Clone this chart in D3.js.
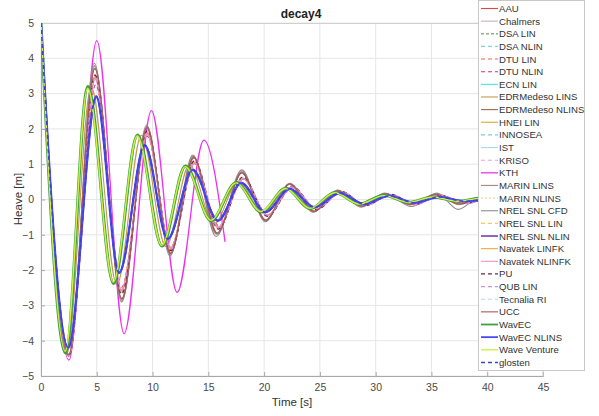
<!DOCTYPE html>
<html><head><meta charset="utf-8">
<script src="https://cdn.jsdelivr.net/npm/d3@7"></script>
<style>body{margin:0;background:#fff}svg{display:block}text{font-family:"Liberation Sans",Arial,Helvetica,sans-serif}</style>
</head><body>
<svg id="c" width="599" height="416"></svg>
<script>
// ---- data (time [s], heave [m]) at extrema ----
const xTickValues = [0,5,10,15,20,25,30,35,40,45];
const yTickValues = [-5,-4,-3,-2,-1,0,1,2,3,4,5];

const dAAU = [[0,5],[2.5,-4.38],[4.85,3.45],[7.2,-2.6],[9.5,1.88],[11.6,-1.4],[13.75,1.05],[15.9,-0.8],[18.1,0.6],[20.3,-0.45],[22.5,0.35],[24.7,-0.27],[26.9,0.22],[29.1,-0.16],[31.3,0.13],[33.5,-0.12],[35.7,0.11],[37.9,-0.09],[40,0.04]];
const dChalmers = [[0,5],[2.5,-4.42],[4.8,3.8],[7.25,-2.88],[9.5,2.08],[11.6,-1.56],[13.65,1.24],[15.75,-1.0],[18.0,0.8],[20.1,-0.6],[22.3,0.45],[24.45,-0.35],[26.6,0.26],[28.75,-0.2],[30.85,0.17],[33.1,-0.15],[35.4,0.16],[37.5,-0.15],[39.6,0.08],[40,0.05]];
const dDSALIN = [[0,5],[2.22,-4.33],[4.22,3.18],[6.52,-2.36],[8.67,1.8],[10.87,-1.3],[12.97,0.93],[15.27,-0.6],[17.52,0.47],[19.77,-0.34],[21.97,0.31],[24.17,-0.25],[26.37,0.19],[28.57,-0.13],[30.77,0.11],[32.97,-0.08],[35.17,0.07],[37.37,-0.05],[39.5,0.04],[40,0.03]];
const dDSANLIN = [[0,5],[2.45,-4.22],[4.95,2.95],[7.02,-2.1],[9.3,1.56],[11.37,-1.13],[13.6,0.85],[15.85,-0.61],[17.95,0.47],[20.1,-0.36],[22.3,0.3],[24.5,-0.22],[26.8,0.18],[29.0,-0.13],[31.2,0.1],[33.5,-0.09],[35.7,0.07],[38.0,-0.05],[40,0.02]];
const dDTULIN = [[0,5],[2.5,-4.4],[4.85,3.5],[7.2,-2.62],[9.5,1.9],[11.6,-1.42],[13.75,1.06],[15.9,-0.8],[18.1,0.6],[20.3,-0.46],[22.5,0.36],[24.7,-0.27],[26.9,0.22],[29.1,-0.17],[31.3,0.14],[33.5,-0.13],[35.7,0.12],[37.9,-0.1],[40,0.05]];
const dDTUNLIN = [[0,5],[2.5,-4.4],[4.9,3.25],[7.2,-2.5],[9.5,1.8],[11.6,-1.35],[13.8,1.0],[15.95,-0.75],[18.15,0.58],[20.35,-0.44],[22.55,0.34],[24.75,-0.26],[26.95,0.21],[29.15,-0.16],[31.35,0.14],[33.55,-0.14],[35.75,0.13],[37.95,-0.11],[40,0.06]];
const dECNLIN = [[0,5],[2.45,-4.2],[4.95,2.9],[7.0,-2.06],[9.3,1.52],[11.35,-1.1],[13.6,0.83],[15.85,-0.59],[17.95,0.46],[20.1,-0.35],[22.3,0.29],[24.5,-0.22],[26.8,0.18],[29.0,-0.13],[31.2,0.1],[33.5,-0.09],[35.7,0.07],[38.0,-0.05],[40,0.02]];
const dEDRLINS = [[0,5],[2.3,-4.38],[4.5,3.2],[6.8,-2.42],[9.0,1.82],[11.2,-1.34],[13.3,0.98],[15.5,-0.7],[17.7,0.52],[19.9,-0.38],[22.1,0.3],[24.3,-0.22],[26.5,0.18],[28.7,-0.13],[30.9,0.11],[33.1,-0.09],[35.3,0.08],[37.5,-0.06],[39.7,0.04],[40,0.03]];
const dEDRNLINS = [[0,5],[2.5,-4.4],[4.82,3.7],[7.25,-2.8],[9.5,2.02],[11.6,-1.52],[13.7,1.18],[15.8,-0.95],[18.0,0.75],[20.15,-0.58],[22.3,0.43],[24.5,-0.33],[26.65,0.25],[28.8,-0.19],[30.9,0.16],[33.1,-0.14],[35.4,0.14],[37.5,-0.13],[39.6,0.07],[40,0.05]];
const dHNEILIN = [[0,5],[2.22,-4.36],[4.2,3.22],[6.5,-2.4],[8.65,1.84],[10.85,-1.33],[12.95,0.96],[15.25,-0.61],[17.5,0.48],[19.75,-0.35],[21.95,0.32],[24.15,-0.26],[26.35,0.2],[28.55,-0.13],[30.75,0.12],[32.95,-0.08],[35.15,0.07],[37.35,-0.05],[39.5,0.04],[40,0.03]];
const dINNOSEA = [[0,5],[2.45,-4.22],[4.95,2.93],[7.0,-2.09],[9.3,1.55],[11.35,-1.13],[13.6,0.85],[15.85,-0.6],[17.95,0.47],[20.1,-0.36],[22.3,0.3],[24.5,-0.22],[26.8,0.18],[29.0,-0.13],[31.2,0.1],[33.5,-0.09],[35.7,0.07],[38.0,-0.05],[40,0.02]];
const dIST = [[0,5],[2.45,-4.18],[4.95,2.88],[7.0,-2.05],[9.3,1.52],[11.35,-1.1],[13.6,0.82],[15.85,-0.58],[17.95,0.46],[20.1,-0.35],[22.3,0.29],[24.5,-0.21],[26.8,0.17],[29.0,-0.12],[31.2,0.1],[33.5,-0.08],[35.7,0.07],[38.0,-0.05],[40,0.02]];
const dKRISO = [[0,5],[2.5,-4.42],[4.85,3.55],[7.22,-2.65],[9.52,1.92],[11.62,-1.43],[13.78,1.08],[15.92,-0.82],[18.12,0.62],[20.32,-0.47],[22.52,0.37],[24.72,-0.28],[26.92,0.22],[29.12,-0.17],[31.32,0.15],[33.52,-0.14],[35.72,0.13],[37.92,-0.11],[40,0.06]];
const dKTH = [[0,5],[2.5,-4.55],[5.0,4.5],[7.45,-3.8],[9.9,2.52],[12.2,-2.63],[14.6,1.68],[16.5,-1.2]];
const dMARINLINS = [[0,5],[2.5,-4.4],[4.8,3.78],[7.25,-2.85],[9.5,2.06],[11.6,-1.55],[13.65,1.22],[15.75,-0.98],[18.0,0.78],[20.1,-0.6],[22.3,0.44],[24.45,-0.34],[26.6,0.26],[28.75,-0.19],[30.85,0.17],[33.1,-0.15],[35.4,0.15],[37.5,-0.14],[39.6,0.07],[40,0.05]];
const dMARINNLINS = [[0,5],[2.5,-4.4],[4.85,3.5],[7.2,-2.6],[9.5,1.9],[11.6,-1.4],[13.75,1.05],[15.9,-0.8],[18.1,0.6],[20.3,-0.45],[22.5,0.36],[24.7,-0.27],[26.9,0.22],[29.1,-0.16],[31.3,0.14],[33.5,-0.12],[35.7,0.12],[37.9,-0.1],[40,0.05]];
const dNRELCFD = [[0,5],[2.5,-4.45],[4.78,3.86],[7.23,-2.9],[9.47,2.11],[11.56,-1.6],[13.6,1.26],[15.7,-1.05],[18.0,0.84],[20.1,-0.63],[22.3,0.46],[24.4,-0.36],[26.6,0.27],[28.7,-0.22],[30.8,0.18],[33.2,-0.2],[35.5,0.18],[37.4,-0.28],[39.5,0.1],[40,0.08]];
const dNRELLIN = [[0,5],[2.5,-4.38],[4.85,3.48],[7.2,-2.6],[9.5,1.88],[11.6,-1.4],[13.75,1.04],[15.9,-0.79],[18.1,0.6],[20.3,-0.45],[22.5,0.35],[24.7,-0.27],[26.9,0.21],[29.1,-0.16],[31.3,0.13],[33.5,-0.12],[35.7,0.11],[37.9,-0.09],[40,0.04]];
const dNRELNLIN = [[0,5],[2.45,-4.2],[4.97,2.9],[7.02,-2.06],[9.32,1.53],[11.37,-1.12],[13.62,0.84],[15.87,-0.6],[17.97,0.47],[20.12,-0.36],[22.32,0.3],[24.52,-0.22],[26.82,0.18],[29.02,-0.13],[31.22,0.1],[33.52,-0.09],[35.72,0.07],[38.0,-0.05],[40,0.02]];
const dNavLINFK = [[0,5],[2.5,-4.38],[4.85,3.45],[7.2,-2.58],[9.5,1.86],[11.6,-1.38],[13.75,1.03],[15.9,-0.78],[18.1,0.59],[20.3,-0.44],[22.5,0.35],[24.7,-0.26],[26.9,0.21],[29.1,-0.16],[31.3,0.13],[33.5,-0.11],[35.7,0.11],[37.9,-0.09],[40,0.04]];
const dNavNLINFK = [[0,5],[2.5,-4.4],[4.87,3.4],[7.22,-2.55],[9.52,1.84],[11.62,-1.37],[13.77,1.02],[15.92,-0.78],[18.12,0.59],[20.32,-0.44],[22.52,0.35],[24.72,-0.27],[26.92,0.21],[29.12,-0.17],[31.32,0.14],[33.52,-0.16],[35.72,0.13],[37.92,-0.1],[40,0.05]];
const dPU = [[0,5],[2.5,-4.42],[4.85,3.52],[7.22,-2.68],[9.52,1.95],[11.62,-1.45],[13.75,1.1],[15.9,-0.84],[18.1,0.64],[20.3,-0.48],[22.5,0.38],[24.7,-0.29],[26.9,0.23],[29.1,-0.17],[31.3,0.15],[33.5,-0.14],[35.7,0.13],[37.9,-0.11],[40,0.05]];
const dQUBLIN = [[0,5],[2.5,-4.4],[4.85,3.47],[7.2,-2.6],[9.5,1.9],[11.6,-1.4],[13.75,1.05],[15.9,-0.8],[18.1,0.6],[20.3,-0.45],[22.5,0.36],[24.7,-0.27],[26.9,0.22],[29.1,-0.17],[31.3,0.14],[33.5,-0.15],[35.7,0.13],[37.9,-0.12],[40,0.05]];
const dTecnalia = [[0,5],[2.45,-4.21],[4.95,2.92],[7.0,-2.08],[9.3,1.54],[11.35,-1.12],[13.6,0.84],[15.85,-0.6],[17.95,0.47],[20.1,-0.36],[22.3,0.3],[24.5,-0.22],[26.8,0.18],[29.0,-0.13],[31.2,0.1],[33.5,-0.09],[35.7,0.07],[38.0,-0.05],[40,0.02]];
const dUCC = [[0,5],[2.5,-4.4],[4.82,3.72],[7.25,-2.82],[9.5,2.04],[11.6,-1.53],[13.68,1.2],[15.78,-0.96],[18.0,0.76],[20.12,-0.59],[22.3,0.44],[24.47,-0.34],[26.62,0.25],[28.77,-0.19],[30.87,0.16],[33.1,-0.14],[35.4,0.14],[37.5,-0.13],[39.6,0.07],[40,0.05]];
const dWavEC = [[0,5],[2.2,-4.35],[4.2,3.2],[6.5,-2.38],[8.65,1.83],[10.85,-1.32],[12.95,0.95],[15.25,-0.6],[17.5,0.48],[19.75,-0.35],[21.95,0.32],[24.15,-0.26],[26.35,0.2],[28.55,-0.13],[30.75,0.12],[32.95,-0.08],[35.15,0.07],[37.35,-0.05],[39.5,0.04],[40,0.03]];
const dWavECNLINS = [[0,5],[2.45,-4.2],[4.95,2.92],[7.0,-2.08],[9.3,1.54],[11.35,-1.12],[13.6,0.84],[15.85,-0.6],[17.95,0.47],[20.1,-0.36],[22.3,0.3],[24.5,-0.22],[26.8,0.18],[29.0,-0.13],[31.2,0.1],[33.5,-0.09],[35.7,0.07],[38.0,-0.05],[40,0.02]];
const dWaveVenture = [[0,5],[2.18,-4.3],[4.18,3.15],[6.48,-2.34],[8.63,1.8],[10.83,-1.3],[12.93,0.93],[15.23,-0.59],[17.48,0.47],[19.73,-0.34],[21.93,0.31],[24.13,-0.25],[26.33,0.19],[28.53,-0.13],[30.73,0.11],[32.93,-0.08],[35.13,0.07],[37.33,-0.05],[39.5,0.04],[40,0.03]];
const dGlosten = [[0,5],[2.45,-4.2],[4.95,2.92],[7.0,-2.08],[9.3,1.54],[11.35,-1.12],[13.6,0.84],[15.85,-0.6],[17.95,0.47],[20.1,-0.36],[22.3,0.3],[24.5,-0.22],[26.8,0.18],[29.0,-0.13],[31.2,0.1],[33.5,-0.09],[35.7,0.07],[38.0,-0.05],[40,0.02]];

const seriesNames = ["AAU","Chalmers","DSA LIN","DSA NLIN","DTU LIN","DTU NLIN","ECN LIN","EDRMedeso LINS","EDRMedeso NLINS","HNEI LIN","INNOSEA","IST","KRISO","KTH","MARIN LINS","MARIN NLINS","NREL SNL CFD","NREL SNL LIN","NREL SNL NLIN","Navatek LINFK","Navatek NLINFK","PU","QUB LIN","Tecnalia RI","UCC","WavEC","WavEC NLINS","Wave Venture","glosten"];
const seriesData = [dAAU,dChalmers,dDSALIN,dDSANLIN,dDTULIN,dDTUNLIN,dECNLIN,dEDRLINS,dEDRNLINS,dHNEILIN,dINNOSEA,dIST,dKRISO,dKTH,dMARINLINS,dMARINNLINS,dNRELCFD,dNRELLIN,dNRELNLIN,dNavLINFK,dNavNLINFK,dPU,dQUBLIN,dTecnalia,dUCC,dWavEC,dWavECNLINS,dWaveVenture,dGlosten];

// ---- styles ----
const seriesColors = ["#e8404a","#c8aec4","#8fae86","#80d4d4","#f06040","#d83070","#40e4e4","#c09a50","#9a6a50","#d8a830","#80c8e8","#a8d8ea","#f0a0d0","#ee30ee","#b08888","#f0d890","#8c8c8c","#f8c860","#7030b0","#f0a838","#f090c8","#603040","#d090e0","#b8d8f0","#a85858","#40a040","#4848ff","#d0f040","#4040d0"];
const seriesDash = ["","","3,2","4,3","4,3","4,3","","","","","4,3","","4,3","","","2,2","","4,3","","","","4,3","4,3","4,3","","","","","4,3"];
const seriesWidth = [1.1,1.1,1.5,1.1,1.1,1.1,1.1,1.1,1.1,1.1,1.1,1.1,1.1,1.3,1.2,1.2,1.1,1.1,1.5,1.1,1.1,1.3,1.1,1.1,1.1,3,2.2,1.4,1.5];

const svg = d3.select("#c");
const L = 41, R = 543, T = 23, B = 376;
const x = d3.scaleLinear().domain([0,45]).range([L,R]);
const y = d3.scaleLinear().domain([-5,5]).range([B,T]);

// grid
const g = svg.append("g");
g.selectAll(".gx").data(xTickValues).join("line")
  .attr("x1",d=>x(d)).attr("x2",d=>x(d)).attr("y1",T).attr("y2",B)
  .attr("stroke","#e6e6e6").attr("stroke-width",1);
g.selectAll(".gy").data(yTickValues).join("line")
  .attr("x1",L).attr("x2",R).attr("y1",d=>y(d)).attr("y2",d=>y(d))
  .attr("stroke","#e6e6e6").attr("stroke-width",1);

// axes
const xAxis = d3.axisBottom(x).tickValues(xTickValues).tickSize(-4).tickPadding(8);
const yAxis = d3.axisLeft(y).tickValues(yTickValues).tickSize(-4).tickPadding(7);
const ax = svg.append("g").attr("transform",`translate(0,${B})`).call(xAxis);
const ay = svg.append("g").attr("transform",`translate(${L},0)`).call(yAxis);
[ax,ay].forEach(a=>{
  a.attr("font-family",null);
  a.select(".domain").attr("stroke","#a8a8a8");
  a.selectAll(".tick line").attr("stroke","#a8a8a8");
  a.selectAll(".tick text").attr("fill","#4a4a4a").style("font-size","10.5px");
});
svg.append("line").attr("x1",L).attr("x2",R).attr("y1",T+0.5).attr("y2",T+0.5).attr("stroke","#d0d0d0");
svg.append("line").attr("x1",R).attr("x2",R).attr("y1",T).attr("y2",B).attr("stroke","#d0d0d0");

// clip
svg.append("clipPath").attr("id","clip").append("rect").attr("x",L).attr("y",T).attr("width",R-L).attr("height",B-T);

const line = d3.line().x(d=>x(d[0])).y(d=>y(d[1])).curve(d3.curveMonotoneX);
const lines = svg.append("g").attr("clip-path","url(#clip)");
seriesData.forEach((d,i)=>{
  lines.append("path").datum(d).attr("d",line).attr("fill","none")
    .attr("stroke",seriesColors[i]).attr("stroke-width",seriesWidth[i])
    .attr("stroke-dasharray",seriesDash[i]||null).attr("stroke-linejoin","round");
});

// title & labels
svg.append("text").attr("x",301).attr("y",18).attr("text-anchor","middle")
  .style("font-weight","bold").style("font-size","12px").attr("fill","#222").text("decay4");
svg.append("text").attr("x",292).attr("y",406).attr("text-anchor","middle")
  .style("font-size","11.5px").attr("fill","#333").text("Time [s]");
svg.append("text").attr("transform","translate(22,199) rotate(-90)").attr("text-anchor","middle")
  .style("font-size","11.5px").attr("fill","#333").text("Heave [m]");

// legend
const lg = svg.append("g");
lg.append("rect").attr("x",478.5).attr("y",0.5).attr("width",106).attr("height",370)
  .attr("fill","#fff").attr("stroke","#c8c8c8");
const rowH = 12.64, y0 = 8.5;
seriesNames.forEach((n,i)=>{
  const yy = y0 + i*rowH;
  lg.append("line").attr("x1",481).attr("x2",498).attr("y1",yy).attr("y2",yy)
    .attr("stroke",seriesColors[i]).attr("stroke-width",Math.min(seriesWidth[i],1.8))
    .attr("stroke-dasharray",seriesDash[i]||null);
  lg.append("text").attr("x",499).attr("y",yy+3.5).style("font-size","9.6px")
    .attr("fill","#333").text(n);
});
</script>
</body></html>
